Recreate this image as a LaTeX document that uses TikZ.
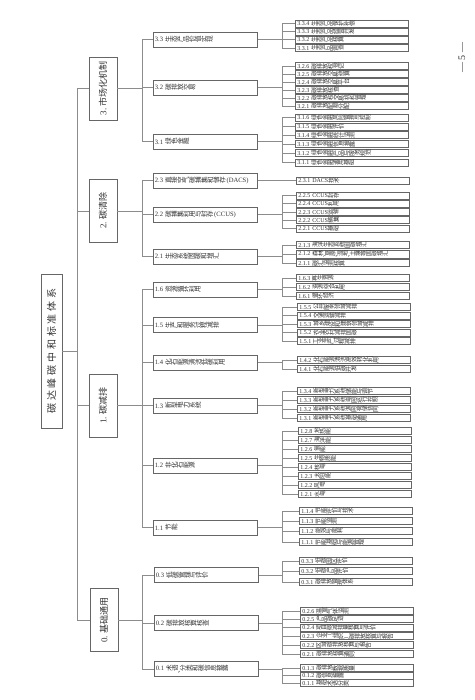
\documentclass[tikz,border=0pt]{standalone}
\usepackage{fontspec}
\setmainfont{Liberation Serif}
\newfontfamily\cjk{Noto Sans CJK SC}
\newfontfamily\cjkw{Noto Sans CJK SC}[LetterSpace=28]
\ExplSyntaxOn
\NewDocumentCommand\rc{m}{\tl_map_inline:nn {#1} {\rotatebox[origin=c]{90}{\cjk ##1}}}
\ExplSyntaxOff
\definecolor{ink}{HTML}{333333}
\definecolor{edge}{HTML}{666666}
\definecolor{wire}{HTML}{8C8C8C}
\begin{document}
\begin{tikzpicture}[x=1pt,y=-1pt,
 ln/.style={draw=wire,line width=0.6pt},
 lf/.style={draw=edge,line width=0.5pt,anchor=west,minimum height=7.4pt,text width=109pt,inner xsep=2pt,inner ysep=0pt,align=left,text=ink,font=\fontsize{6}{6.5}\selectfont},
 l2/.style={draw=edge,line width=0.6pt,anchor=west,minimum height=15pt,text width=101pt,inner xsep=1.5pt,inner ysep=0pt,align=left,text=ink,font=\fontsize{6.6}{7}\selectfont},
 l1/.style={draw=edge,line width=0.6pt,minimum width=28pt,minimum height=63pt,inner sep=0pt,text=ink,font=\fontsize{9}{10}\selectfont},
 rt/.style={draw=edge,line width=0.6pt,minimum width=21pt,minimum height=154pt,inner sep=0pt,text=ink,font=\fontsize{10}{11}\selectfont},
 pg/.style={text=ink,font=\fontsize{10}{11}\selectfont,inner sep=0pt}]
\useasboundingbox (0,0) rectangle (474,700);

% root and level 1
\node[rt] (root) at (51.5,351) {\rotatebox{90}{\cjkw 碳达峰碳中和标准体系}};
\node[l1] (s3) at (103,88.5) {\rotatebox{90}{3.\ {\cjk 市场化机制}}};
\node[l1] (s2) at (103,211) {\rotatebox{90}{2.\ {\cjk 碳清除}}};
\node[l1] (s1) at (103,405.5) {\rotatebox{90}{1.\ {\cjk 碳减排}}};
\node[l1] (s0) at (104,620) {\rotatebox{90}{0.\ {\cjk 基础通用}}};
\node[pg] (pn) at (462,58) {\rotatebox{90}{— 5 —}};

% level 2
\node[l2] (t33) at (153,39.5) {3.3 \rc{生态产品价值实现}};
\node[l2] (t32) at (153,87.5) {3.2 \rc{碳排放交易}};
\node[l2] (t31) at (153,141.5) {3.1 \rc{绿色金融}};
\node[l2] (t23) at (153,180.5) {2.3 \rc{直接空气碳捕集和储存}\,(DACS)};
\node[l2] (t22) at (153,214.5) {2.2 \rc{碳捕集利用与封存}\,(CCUS)};
\node[l2] (t21) at (153,256.5) {2.1 \rc{生态系统固碳和增汇}};
\node[l2] (t16) at (153,289.5) {1.6 \rc{资源循环利用}};
\node[l2] (t15) at (153,325) {1.5 \rc{生产和服务过程减排}};
\node[l2] (t14) at (153,362.5) {1.4 \rc{化石能源清洁低碳利用}};
\node[l2] (t13) at (153,405.5) {1.3 \rc{新型电力系统}};
\node[l2] (t12) at (153,465.5) {1.2 \rc{非化石能源}};
\node[l2] (t11) at (153,527.5) {1.1 \rc{节能}};
\node[l2] (t03) at (154,575) {0.3 \rc{低碳管理与评价}};
\node[l2] (t02) at (154,623) {0.2 \rc{碳排放核算核查}};
\node[l2] (t01) at (154,669) {0.1 \rc{术语、分类和碳信息披露}};

% leaves
\node[lf] (n334) at (295,23.5) {3.3.4 \rc{生态产品保护补偿}};
\node[lf] (n333) at (295,31.5) {3.3.3 \rc{生态产品经营开发}};
\node[lf] (n332) at (295,39.5) {3.3.2 \rc{生态产品核算}};
\node[lf] (n331) at (295,48) {3.3.1 \rc{生态产品调查}};
\node[lf] (n326) at (295,66) {3.2.6 \rc{碳排放权登记}};
\node[lf] (n325) at (295,74) {3.2.5 \rc{碳排放交易结算}};
\node[lf] (n324) at (295,82) {3.2.4 \rc{碳排放交易平台}};
\node[lf] (n323) at (295,90) {3.2.3 \rc{碳排放核查}};
\node[lf] (n322) at (295,98) {3.2.2 \rc{碳排放权交易机构管理}};
\node[lf] (n321) at (295,106) {3.2.1 \rc{碳排放配额分配}};
\node[lf] (n316) at (295,117.5) {3.1.6 \rc{绿色金融风险管理与控制}};
\node[lf] (n315) at (295,126.5) {3.1.5 \rc{绿色金融评价}};
\node[lf] (n314) at (295,135) {3.1.4 \rc{绿色金融统计监测}};
\node[lf] (n313) at (295,144) {3.1.3 \rc{绿色金融信息披露}};
\node[lf] (n312) at (295,153) {3.1.2 \rc{绿色金融产品与服务规范}};
\node[lf] (n311) at (295,162.5) {3.1.1 \rc{绿色金融通用基础}};
\node[lf] (n231) at (296,180.5) {2.3.1 DACS\rc{技术}};
\node[lf] (n225) at (296,195.5) {2.2.5 CCUS\rc{封存}};
\node[lf] (n224) at (296,203.5) {2.2.4 CCUS\rc{利用}};
\node[lf] (n223) at (296,212) {2.2.3 CCUS\rc{运输}};
\node[lf] (n222) at (296,220) {2.2.2 CCUS\rc{捕集}};
\node[lf] (n221) at (296,228.5) {2.2.1 CCUS\rc{基础}};
\node[lf] (n213) at (296,245) {2.1.3 \rc{海洋生态系统固碳增汇}};
\node[lf] (n212) at (296,254) {2.1.2 \rc{森林、草原、湿地、土壤等固碳增汇}};
\node[lf] (n211) at (296,263) {2.1.1 \rc{碳汇监测核算}};
\node[lf] (n163) at (296,278) {1.6.3 \rc{再生资源}};
\node[lf] (n162) at (296,287) {1.6.2 \rc{资源综合利用}};
\node[lf] (n161) at (296,296) {1.6.1 \rc{循环经济}};
\node[lf] (n155) at (297,307) {1.5.5 \rc{公共服务领域减排}};
\node[lf] (n154) at (297,315.5) {1.5.4 \rc{交通运输减排}};
\node[lf] (n153) at (297,324) {1.5.3 \rc{城乡建设和建筑领域减排}};
\node[lf] (n152) at (297,332.5) {1.5.2 \rc{农业农村减排固碳}};
\node[lf] (n151) at (297,341) {1.5.1 \rc{工业生产过程减排}};
\node[lf] (n142) at (297,360) {1.4.2 \rc{化石能源清洁高效转化利用}};
\node[lf] (n141) at (297,369) {1.4.1 \rc{化石能源低碳开发}};
\node[lf] (n134) at (297,391) {1.3.4 \rc{新型电力系统储能与调节}};
\node[lf] (n133) at (297,400) {1.3.3 \rc{新型电力系统电网运行控制}};
\node[lf] (n132) at (297,409) {1.3.2 \rc{新型电力系统源网荷储协同}};
\node[lf] (n131) at (297,418) {1.3.1 \rc{新型电力系统基础通用}};
\node[lf] (n128) at (298,431) {1.2.8 \rc{地热能}};
\node[lf] (n127) at (298,440) {1.2.7 \rc{海洋能}};
\node[lf] (n126) at (298,449) {1.2.6 \rc{氢能}};
\node[lf] (n125) at (298,458) {1.2.5 \rc{生物质能}};
\node[lf] (n124) at (298,467) {1.2.4 \rc{核电}};
\node[lf] (n123) at (298,476) {1.2.3 \rc{太阳能}};
\node[lf] (n122) at (298,485) {1.2.2 \rc{风电}};
\node[lf] (n121) at (298,494) {1.2.1 \rc{水电}};
\node[lf] (n114) at (299,511) {1.1.4 \rc{节能评价与技术}};
\node[lf] (n113) at (299,521) {1.1.3 \rc{节能监测}};
\node[lf] (n112) at (299,531) {1.1.2 \rc{能效与能耗}};
\node[lf] (n111) at (299,542) {1.1.1 \rc{节能基础与能源管理}};
\node[lf] (n033) at (299,561) {0.3.3 \rc{低碳园区评价}};
\node[lf] (n032) at (299,571) {0.3.2 \rc{低碳产品评价}};
\node[lf] (n031) at (299,582) {0.3.1 \rc{碳排放管理体系}};
\node[lf] (n026) at (300,611) {0.2.6 \rc{温室气体监测}};
\node[lf] (n025) at (300,619) {0.2.5 \rc{产品碳足迹}};
\node[lf] (n024) at (300,627.5) {0.2.4 \rc{项目碳减排量核算与评价}};
\node[lf] (n023) at (300,636) {0.2.3 \rc{企业（组织）碳排放核算与报告}};
\node[lf] (n022) at (300,645) {0.2.2 \rc{区域碳排放核算与报告}};
\node[lf] (n021) at (300,654) {0.2.1 \rc{碳排放核算通则}};
\node[lf] (n013) at (300,668) {0.1.3 \rc{碳排放数据质量}};
\node[lf] (n012) at (300,675.5) {0.1.2 \rc{碳信息披露}};
\node[lf] (n011) at (300,683) {0.1.1 \rc{基础术语分类}};

% level-1 bus
\coordinate (bA) at (77,0);
\draw[ln] (root.east) -- (root.east -| bA);
\draw[ln] (bA |- s3) -- (bA |- s0);
\foreach \n in {s3,s2,s1,s0} \draw[ln] (bA |- \n) -- (\n.west);

% level-2 buses
\coordinate (bB) at (142,0);
\draw[ln] (bB |- t33) -- (bB |- t31);
\draw[ln] (bB |- t23) -- (bB |- t21);
\draw[ln] (bB |- t16) -- (bB |- t11);
\draw[ln] (bB |- t03) -- (bB |- t01);
\foreach \n in {s3,s2,s1,s0} \draw[ln] (\n.east) -- (\n.east -| bB);
\foreach \n in {t33,t32,t31,t23,t22,t21,t16,t15,t14,t13,t12,t11,t03,t02,t01} \draw[ln] (bB |- \n) -- (\n.west);

% leaf buses
\coordinate (bC) at (282,0);
\foreach \t/\a/\b in {t33/n334/n331,t32/n326/n321,t31/n316/n311,t23/n231/n231,t22/n225/n221,t21/n213/n211,t16/n163/n161,t15/n155/n151,t14/n142/n141,t13/n134/n131,t12/n128/n121,t11/n114/n111,t03/n033/n031,t02/n026/n021,t01/n013/n011}{
  \draw[ln] (\t.east) -- (\t.east -| bC);
  \draw[ln] (bC |- \a) -- (bC |- \b);
}
\foreach \n in {n334,n333,n332,n331,n326,n325,n324,n323,n322,n321,n316,n315,n314,n313,n312,n311,n231,n225,n224,n223,n222,n221,n213,n212,n211,n163,n162,n161,n155,n154,n153,n152,n151,n142,n141,n134,n133,n132,n131,n128,n127,n126,n125,n124,n123,n122,n121,n114,n113,n112,n111,n033,n032,n031,n026,n025,n024,n023,n022,n021,n013,n012,n011}
  \draw[ln] (bC |- \n) -- (\n.west);
\end{tikzpicture}
\end{document}
